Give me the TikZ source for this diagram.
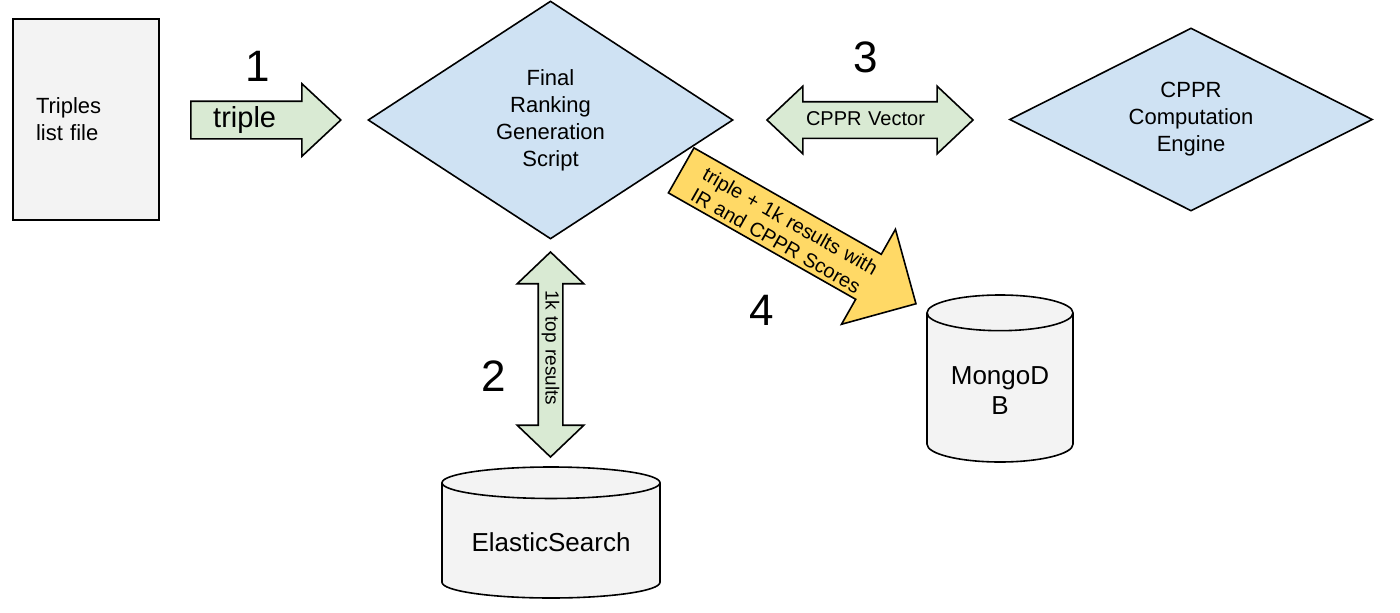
\documentclass[tikz,border=0pt]{standalone}
\usepackage{fontspec}
\setmainfont{Liberation Sans}
\usetikzlibrary{shapes.geometric,shapes.arrows}
\definecolor{filegray}{HTML}{F3F3F3}
\definecolor{procblue}{HTML}{CFE2F3}
\definecolor{flowgreen}{HTML}{D9EAD3}
\definecolor{flowyellow}{HTML}{FFD966}
\newcommand{\fsz}[2]{\fontsize{#1}{#2}\selectfont}
\begin{document}
\begin{tikzpicture}[x=1pt,y=-1pt,line width=1.6pt,
  filebox/.style={rectangle,draw,fill=filegray,minimum width=146pt,minimum height=201pt,
    text width=100pt,inner xsep=0pt,align=left,font=\fsz{22}{27}},
  decision/.style={diamond,draw,fill=procblue,align=center,inner sep=0pt,font=\fsz{22}{27}},
  store/.style={cylinder,shape border rotate=90,draw,fill=filegray,align=center,font=\fsz{26}{30}},
  send/.style={single arrow,draw,inner xsep=0pt,align=left},
  swap/.style={double arrow,draw,fill=flowgreen,inner xsep=0pt,align=left},
  stepnum/.style={font=\fsz{44}{50}}]
\useasboundingbox (0,0) rectangle (1400,613);
\node[filebox] (triples) at (86,119.5) {Triples\\list file};
\node[decision,minimum width=365pt,minimum height=238pt,aspect=1.5] (ranking) at (550.5,120) {Final\\Ranking\\Generation\\Script};
\node[decision,minimum width=363pt,minimum height=183pt,aspect=2] (engine) at (1191,119.5) {CPPR\\Computation\\Engine};
\node[store,minimum width=218pt,minimum height=131pt,shape aspect=0.19,anchor=shape center] (elastic) at (551,532.5) {ElasticSearch};
\node[store,minimum width=146pt,minimum height=167pt,shape aspect=0.34,anchor=shape center] (mongo) at (1000,378.5) {MongoD\\B};
\node[send,fill=flowgreen,anchor=tail,minimum height=150pt,text width=85pt,inner ysep=4.5pt,text height=21pt,text depth=6pt,
  single arrow head extend=17.5pt,single arrow tip angle=86,font=\fsz{29}{33}] (triple) at (190,120) {triple};
\node[swap,minimum height=206pt,text width=128pt,inner ysep=8.25pt,text height=14.5pt,text depth=4pt,
  double arrow head extend=15.5pt,double arrow tip angle=86.6,font=\fsz{20}{23}] (vector) at (870,120) {CPPR Vector};
\node[swap,rotate=-90,minimum height=205pt,text width=129pt,inner ysep=2.5pt,text height=14pt,text depth=4pt,
  double arrow head extend=21pt,double arrow tip angle=92.7,font=\fsz{19}{22}] (topk) at (550.5,354.5) {1k top results};
\node[send,fill=flowyellow,rotate=-29.6,anchor=tail,minimum height=270pt,text width=201pt,inner ysep=3.5pt,
  single arrow head extend=28.7pt,single arrow tip angle=90,font=\fsz{20}{24}] (scores) at (680.5,170) {\rule{0pt}{19pt}triple + 1k results with\\IR and CPPR Scores};
\node[stepnum] (n1) at (258,66) {1};
\node[stepnum] (n2) at (494,376) {2};
\node[stepnum] (n3) at (866,57) {3};
\node[stepnum] (n4) at (762,310) {4};
\end{tikzpicture}
\end{document}
